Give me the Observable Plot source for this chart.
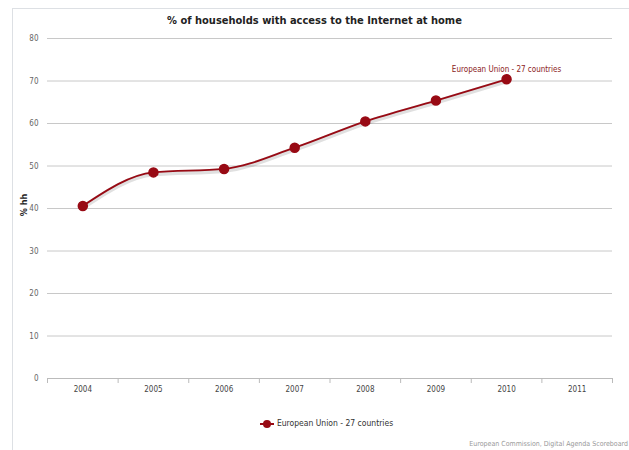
<!DOCTYPE html>
<html><head><meta charset="utf-8">
<script src="https://cdn.jsdelivr.net/npm/d3@7"></script>
<script src="https://cdn.jsdelivr.net/npm/@observablehq/plot@0.6"></script>
<style>
body{margin:0;background:#fff;font-family:"DejaVu Sans Condensed","Liberation Sans Narrow",sans-serif;}
#wrap{position:relative;width:629px;height:450px;overflow:hidden;}
#frame{position:absolute;left:12px;top:8px;width:640px;height:460px;border:1px solid #dde0e4;box-sizing:border-box;}
#title{position:absolute;left:0;width:629px;top:14px;text-align:center;font-weight:bold;font-size:11px;color:#222;}
#chart{position:absolute;left:0;top:30px;}
#ylab{position:absolute;left:24px;top:205px;transform:translate(-50%,-50%) rotate(-90deg);font-weight:bold;font-size:9px;color:#222;white-space:nowrap;}
#legend{position:absolute;left:0;width:629px;padding-left:24px;box-sizing:border-box;top:418px;text-align:center;font-size:8.5px;color:#333;}
#legend svg{vertical-align:middle;margin-right:3px;}
#credit{position:absolute;right:1px;top:440px;font-size:7px;color:#999;white-space:nowrap;}
</style></head>
<body>
<div id="wrap">
<div id="frame"></div>
<div id="title">% of households with access to the Internet at home</div>
<div id="chart"></div>
<div id="ylab">% hh</div>
<div id="legend"></div>
<div id="credit">European Commission, Digital Agenda Scoreboard</div>
</div>
<script>
const years = [2004, 2005, 2006, 2007, 2008, 2009, 2010];
const values = [40.6, 48.5, 49.3, 54.3, 60.5, 65.4, 70.4];
const axisYears = [2004, 2005, 2006, 2007, 2008, 2009, 2010, 2011];
const yTicks = [0, 10, 20, 30, 40, 50, 60, 70, 80];
const seriesName = "European Union - 27 countries";
const color = "#980a14";

const data = years.map((y, i) => ({year: y, value: values[i]}));
const bounds = axisYears.map(y => y - 0.5).concat([axisYears[axisYears.length - 1] + 0.5]);
const last = data[data.length - 1];

const chart = Plot.plot({
  width: 629,
  height: 370,
  marginLeft: 47,
  marginRight: 17,
  marginTop: 8,
  marginBottom: 22,
  style: {fontFamily: '"DejaVu Sans Condensed", sans-serif', background: "transparent"},
  x: {domain: [2003.5, 2011.5], label: null},
  y: {domain: [0, 80], label: null},
  marks: [
    Plot.gridY(yTicks, {stroke: "#c8c8c8", strokeOpacity: 1}),
    Plot.axisY(yTicks, {tickSize: 0, tickPadding: 9, fontSize: 8, fill: "#666", label: null}),
    Plot.ruleY([0], {stroke: "#bbb"}),
    Plot.axisX(bounds, {tickSize: 5, stroke: "#bbb", tickFormat: () => "", label: null}),
    Plot.axisX(axisYears, {tickSize: 0, tickPadding: 8, fontSize: 8, fill: "#444", tickFormat: d => String(d), label: null}),
    Plot.line(data, {x: "year", y: "value", curve: "monotone-x", stroke: "#000", strokeOpacity: 0.12, strokeWidth: 5, dy: 1.5}),
    Plot.line(data, {x: "year", y: "value", curve: "monotone-x", stroke: color, strokeWidth: 1.8}),
    Plot.dot(data, {x: "year", y: "value", r: 4.5, fill: color, stroke: color}),
    Plot.text([last], {x: "year", y: "value", text: () => seriesName, dy: -10, fontSize: 8, fill: "#8a1a22"})
  ]
});
document.getElementById("chart").appendChild(chart);

document.getElementById("legend").innerHTML =
  `<svg width="14" height="10"><line x1="0" x2="14" y1="5" y2="5" stroke="${color}" stroke-width="2"/><circle cx="7" cy="5" r="4" fill="${color}"/></svg>${seriesName}`;
</script>
</body></html>
